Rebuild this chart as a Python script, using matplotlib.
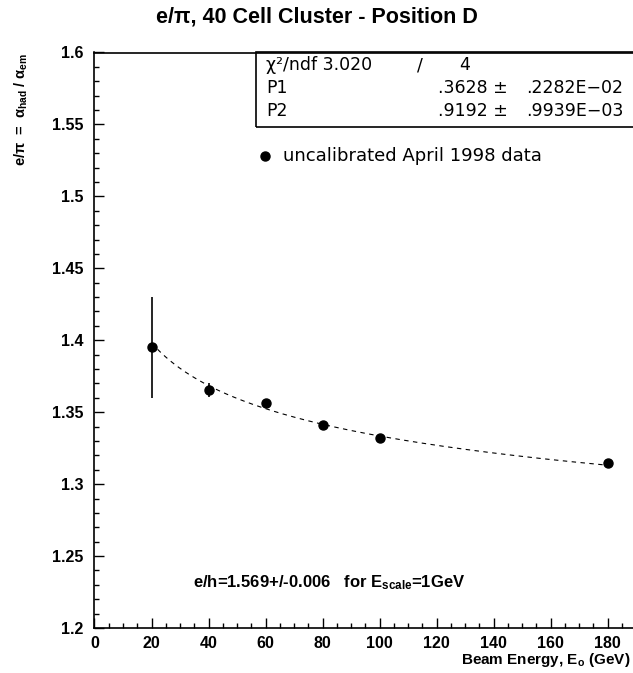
import numpy as np
import matplotlib
matplotlib.use("Agg")
import matplotlib.pyplot as plt
from matplotlib.ticker import MultipleLocator
from matplotlib.patches import Rectangle

plt.rcParams['font.family'] = ['Liberation Sans', 'DejaVu Sans']
plt.rcParams['mathtext.fontset'] = 'custom'
plt.rcParams['mathtext.rm'] = 'Liberation Sans:bold'
plt.rcParams['mathtext.it'] = 'Liberation Sans:bold'
plt.rcParams['mathtext.bf'] = 'Liberation Sans:bold'

# data
energy = [20, 40, 60, 80, 100, 180]
e_pi = [1.395, 1.3655, 1.3565, 1.341, 1.332, 1.3145]
e_pi_err = [0.035, 0.005, 0.002, 0.002, 0.002, 0.002]

# fit parameters shown in the stats box
p1 = 0.3628
p2 = 0.9192
fit_range = [20, 180]

title = "e/\u03c0, 40 Cell Cluster - Position D"
x_label = r"Beam Energy, E$_{\mathregular{o}}$ (GeV)"
y_label = r"e/$\pi$  =  $\alpha_{\mathregular{had}}$ / $\alpha_{\mathregular{em}}$"
legend_label = "uncalibrated April 1998 data"
note = r"e/h=1.569+/-0.006   for E$_{\mathregular{scale}}$=1GeV"

W, H = 633, 673
fig = plt.figure(figsize=(W / 100, H / 100), dpi=100)

left, right, top, bottom = 94.5, 636, 52.5, 628
ax = fig.add_axes([left / W, 1 - bottom / H, (right - left) / W, (bottom - top) / H])
ax.set_xlim(0, 190)
ax.set_ylim(1.2, 1.6)

# fit curve  e/pi = 1 / (1 - P1 * E^(P2-1))
xf = np.linspace(fit_range[0], fit_range[1], 300)
yf = 1.0 / (1.0 - p1 * xf ** (p2 - 1.0))
ax.plot(xf, yf, color='black', lw=0.8, dashes=(4, 4))

ax.errorbar(energy, e_pi, yerr=e_pi_err, fmt='o', color='black', ms=6.5,
            elinewidth=1.2, capsize=0)

ax.xaxis.set_major_locator(MultipleLocator(20))
ax.xaxis.set_minor_locator(MultipleLocator(5))
ax.yaxis.set_major_locator(MultipleLocator(0.05))
ax.yaxis.set_minor_locator(MultipleLocator(0.01))
ax.tick_params(which='both', direction='in', top=False, right=False, width=1)
ax.tick_params(which='major', length=7)
ax.tick_params(which='minor', length=3.6)
ax.tick_params(axis='x', pad=6)
ax.tick_params(axis='y', pad=8)
for lab in ax.get_xticklabels() + ax.get_yticklabels():
    lab.set_fontweight('bold')
    lab.set_fontsize(11.5)
ax.yaxis.set_major_formatter(plt.FuncFormatter(lambda v, p: ('%.2f' % v).rstrip('0').rstrip('.')))
for s in ax.spines.values():
    s.set_linewidth(1.2)

# title and axis labels
fig.text(317 / W, 1 - 17 / H, title, ha='center', va='center', fontsize=15.5, fontweight='bold')
fig.text(630 / W, 1 - 660 / H, x_label, ha='right', va='center', fontsize=11, fontweight='bold')
fig.text(21 / W, 1 - 53 / H, y_label, ha='center', va='top', rotation=90, fontsize=10.5, fontweight='bold')

# stats box
box_l, box_t, box_b = 256, 52.5, 127
fig.patches.append(Rectangle((box_l / W, 1 - box_b / H), (right - box_l) / W, (box_b - box_t) / H,
                             transform=fig.transFigure, fill=False, edgecolor='black', lw=1.2))
rows = [
    ("\u03c7\u00b2/ndf 3.020", "/", "4", "", ""),
    ("P1", "", "", ".3628 \u00b1", ".2282E\u221202"),
    ("P2", "", "", ".9192 \u00b1", ".9939E\u221203"),
]
row_y = [65, 88, 111]
fs_box = 12.5
for (a, b, c, d, e), yy in zip(rows, row_y):
    yf_ = 1 - yy / H
    fig.text(266 / W, yf_, a, ha='left', va='center', fontsize=fs_box, family='DejaVu Sans')
    if b:
        fig.text(420 / W, yf_, b, ha='center', va='center', fontsize=fs_box, family='DejaVu Sans')
        fig.text(465 / W, yf_, c, ha='center', va='center', fontsize=fs_box, family='DejaVu Sans')
    if d:
        fig.text(508 / W, yf_, d, ha='right', va='center', fontsize=fs_box, family='DejaVu Sans')
        fig.text(623 / W, yf_, e, ha='right', va='center', fontsize=fs_box, family='DejaVu Sans')

# legend entry
fig.lines.append(plt.Line2D([265 / W], [1 - 156 / H], marker='o', color='black', ms=6.5,
                            transform=fig.transFigure))
fig.text(283 / W, 1 - 156 / H, legend_label, ha='left', va='center', fontsize=13, family='DejaVu Sans')

# note
fig.text(193 / W, 1 - 583 / H, note, ha='left', va='center', fontsize=12, fontweight='bold')

fig.savefig("out.png", dpi=100)
